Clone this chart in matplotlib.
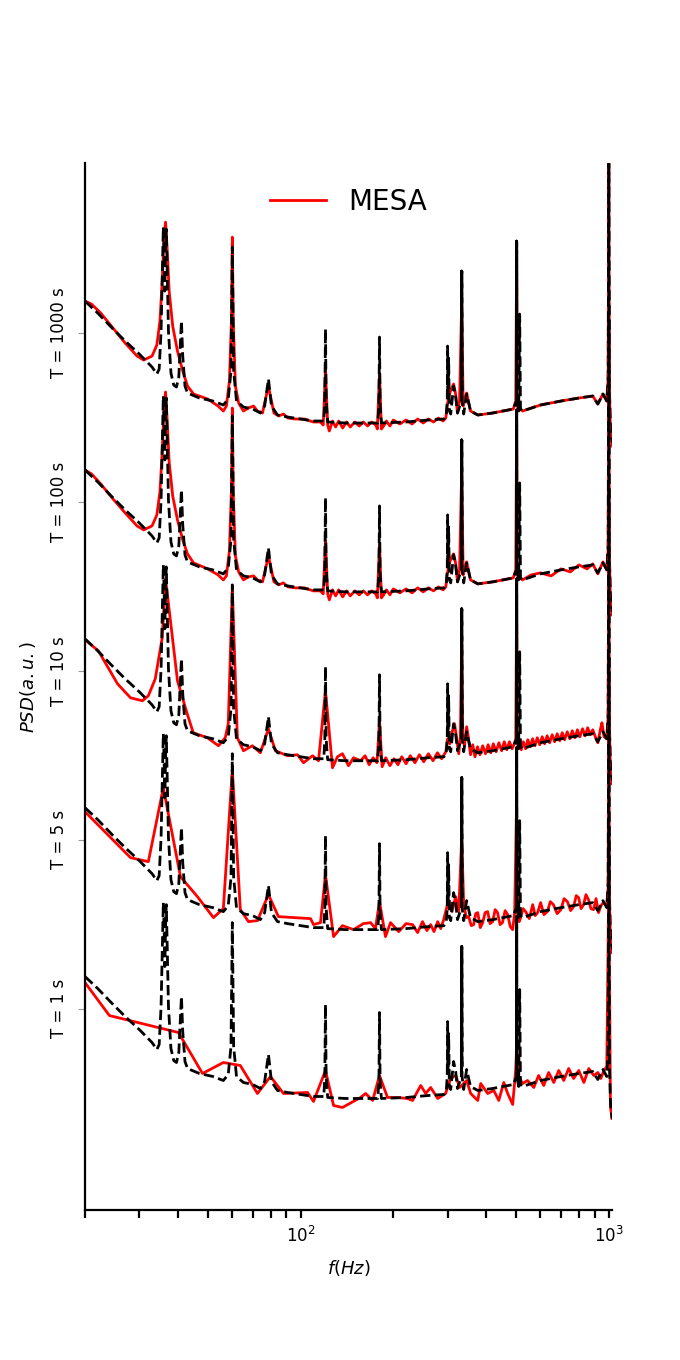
import numpy as np
import matplotlib.pyplot as plt

durations = ['1000', '100', '10', '5', '1']

# reference spectrum (black dashed), same for every panel
ref_f = [20.0, 22.0, 24.5, 27.0, 30.0, 33.0, 34.2, 34.8, 35.3, 35.7, 35.9, 36.1, 36.3, 36.5, 36.7,
         36.9, 37.3, 38.0, 38.8, 39.6, 40.3, 40.8, 41.1, 41.5, 42.2, 43.0, 47.0, 52.0, 56.2, 58.3,
         59.5, 60.1, 60.7, 62.0, 65.3, 70.0, 74.1, 76.5, 78.7, 80.5, 84.2, 90.8, 100.0, 110.0, 119.0,
         119.9, 120.5, 121.1, 122.5, 140.0, 160.0, 178.0, 179.6, 180.4, 181.2, 183.0, 220.0, 260.0,
         292.0, 297.0, 299.2, 300.0, 300.8, 302.3, 304.0, 307.0, 313.7, 318.6, 323.0, 332.4, 333.1,
         333.15, 333.2, 333.25, 333.3, 333.35, 333.4, 334.2, 338.3, 345.8, 356.0, 376.0, 420.0, 490.0,
         501.6, 502.2, 502.25, 502.3, 502.35, 502.4, 502.45, 502.5, 503.2, 510.0, 513.5, 513.9, 517.0,
         525.0, 600.0, 700.0, 800.0, 887.0, 921.0, 957.0, 985.0, 995.0, 1000.0, 1005.0, 1012.0, 1024.0]
ref_psd = [20.0, 18.8, 17.3, 16.0, 14.7, 13.4, 12.7, 13.2, 17.0, 24.0, 27.4, 25.0, 21.0, 25.0, 27.2,
           24.0, 17.0, 12.8, 11.6, 11.4, 12.4, 16.0, 18.0, 14.5, 11.5, 10.8, 10.3, 10.0, 9.6, 10.2,
           13.0, 25.4, 13.0, 10.0, 9.4, 9.2, 8.8, 9.5, 12.2, 9.5, 8.6, 8.4, 8.2, 8.0, 8.0,
           10.0, 17.2, 10.0, 7.9, 7.8, 7.8, 7.8, 9.5, 16.4, 9.5, 7.8, 7.9, 8.1,
           8.2, 8.6, 10.0, 15.5, 10.5, 14.3, 9.0, 8.7, 11.5, 10.5, 8.8, 10.0, 23.0,
           10.6, 23.0, 10.8, 23.0, 11.0, 23.0, 10.0, 8.7, 10.7, 9.0, 8.6, 8.8, 9.2,
           10.0, 26.0, 10.4, 26.0, 10.6, 26.0, 10.8, 26.0, 10.0, 9.0, 18.7, 18.7, 9.2,
           9.0, 9.6, 10.0, 10.3, 10.5, 9.7, 10.7, 10.0, 12.5, 35.0, 11.0, 7.5, 5.8]

# MESA estimates (red)
mesa_f_1000 = [20.0, 21.0, 22.5, 24.5, 27.0, 29.5, 31.0, 33.0, 34.2, 35.0, 35.6, 36.1, 36.5, 36.9, 37.5,
               38.5, 39.9, 41.5, 43.0, 45.0, 50.0, 54.0, 56.2, 57.5, 58.8, 59.7, 60.1, 60.5, 61.5, 63.0,
               65.3, 67.8, 70.4, 72.5, 75.3, 77.0, 78.7, 80.5, 82.0, 85.0, 88.0, 91.0, 96.0, 103.0, 110.0,
               116.0, 118.5, 120.5, 122.5, 124.0, 127.0, 130.0, 133.0, 137.0, 141.0, 145.0, 150.0, 155.0,
               160.0, 165.0, 170.0, 175.5, 177.5, 180.4, 183.0, 186.0, 190.0, 195.0, 200.0, 210.0, 220.0,
               230.0, 240.0, 250.0, 260.0, 270.0, 280.0, 290.0, 296.0, 299.0, 303.0, 308.0, 313.7, 318.0,
               323.0, 328.0, 333.3, 337.0, 341.0, 345.8, 356.0, 376.0, 420.0, 490.0, 499.0, 502.4, 505.0,
               525.0, 600.0, 700.0, 800.0, 887.0, 921.0, 957.0, 985.0, 995.0, 1000.0, 1005.0, 1012.0, 1024.0]
mesa_psd_1000 = [20.0, 19.7, 18.8, 17.4, 15.8, 14.5, 14.1, 14.5, 15.6, 18.0, 22.0, 26.5, 27.9, 25.5, 21.0,
                 17.5, 15.0, 13.0, 11.5, 10.7, 10.2, 9.5, 9.0, 9.5, 12.0, 18.0, 26.4, 18.0, 11.5, 9.8,
                 9.0, 9.3, 9.5, 9.0, 8.8, 10.2, 11.5, 10.0, 8.8, 8.5, 8.7, 8.3, 8.2, 8.2, 7.9,
                 7.9, 7.6, 13.2, 7.6, 7.0, 8.0, 7.4, 8.0, 7.3, 7.9, 7.4, 7.9, 7.5,
                 7.9, 7.5, 7.9, 7.6, 7.2, 12.8, 7.2, 7.5, 8.0, 7.5, 8.1, 7.7, 8.1,
                 7.7, 8.2, 7.8, 8.2, 7.9, 8.3, 8.0, 8.3, 9.5, 10.5, 11.2, 11.7, 10.8,
                 8.8, 10.0, 20.0, 9.5, 10.2, 10.8, 9.0, 8.6, 8.8, 9.2, 10.0, 25.0, 9.5,
                 9.0, 9.6, 10.0, 10.3, 10.5, 9.7, 10.7, 10.0, 12.2, 34.0, 10.8, 7.0, 5.5]

mesa_f_100 = [20.0, 21.0, 22.5, 24.5, 27.0, 29.5, 31.0, 33.0, 34.2, 35.0, 35.6, 36.1, 36.5, 36.9, 37.5,
              38.5, 39.9, 41.5, 43.0, 45.0, 50.0, 54.0, 56.2, 57.5, 58.8, 59.7, 60.1, 60.5, 61.5, 63.0,
              65.3, 67.8, 70.4, 72.5, 75.3, 77.0, 78.7, 80.5, 82.0, 85.0, 88.0, 91.0, 96.0, 103.0, 110.0,
              116.0, 118.5, 120.5, 122.5, 124.0, 127.0, 130.0, 133.0, 137.0, 141.0, 145.0, 150.0, 155.0,
              160.0, 165.0, 170.0, 175.5, 177.5, 180.4, 183.0, 186.0, 190.0, 195.0, 200.0, 210.0, 220.0,
              230.0, 240.0, 250.0, 260.0, 270.0, 280.0, 290.0, 296.0, 299.0, 303.0, 308.0, 313.7, 318.0,
              323.0, 328.0, 333.3, 337.0, 341.0, 345.8, 356.0, 376.0, 420.0, 490.0, 499.0, 502.4, 505.0,
              525.0, 560.0, 600.0, 650.0, 700.0, 750.0, 800.0, 850.0, 887.0, 921.0, 957.0, 985.0, 995.0,
              1000.0, 1005.0, 1012.0, 1024.0]
mesa_psd_100 = [20.0, 19.6, 18.6, 17.2, 15.7, 14.4, 14.0, 14.4, 15.5, 17.8, 21.8, 26.3, 27.8, 25.3, 20.8,
                17.4, 15.0, 13.0, 11.6, 10.7, 10.1, 9.5, 9.0, 9.4, 11.9, 18.0, 26.2, 17.8, 11.4, 9.8,
                9.0, 9.3, 9.4, 9.0, 8.8, 10.1, 11.4, 10.0, 8.8, 8.5, 8.7, 8.3, 8.2, 8.2, 7.9,
                7.9, 7.6, 13.0, 7.6, 7.0, 8.0, 7.4, 8.0, 7.3, 7.9, 7.4, 7.9, 7.5,
                7.9, 7.5, 7.9, 7.6, 7.2, 12.6, 7.2, 7.5, 8.0, 7.5, 8.1, 7.7, 8.1,
                7.7, 8.2, 7.8, 8.2, 7.9, 8.3, 8.0, 8.3, 9.5, 10.5, 11.2, 11.6, 10.8,
                8.8, 10.0, 20.0, 9.5, 10.2, 10.8, 9.0, 8.6, 8.8, 9.2, 10.0, 24.8, 9.5,
                9.0, 9.5, 9.7, 9.4, 10.1, 9.8, 10.5, 10.1, 10.6, 9.6, 10.8, 10.0, 12.0,
                33.8, 10.8, 7.0, 5.5]

mesa_f_10 = [20.0, 22.1, 25.5, 28.1, 30.7, 32.1, 33.8, 35.6, 36.5, 39.9, 42.9, 44.9, 49.9, 54.2, 57.0,
             58.3, 60.1, 62.4, 65.3, 69.8, 74.1, 78.7, 82.9, 90.8, 97.8, 102.3, 109.4, 114.4, 120.5, 127.0,
             131.8, 136.8, 143.1, 148.6, 156.6, 162.0, 167.0, 172.0, 177.0, 180.4, 184.0, 189.0, 195.0,
             201.0, 207.0, 213.0, 220.0, 227.0, 235.0, 243.0, 251.0, 260.0, 269.0, 278.0, 287.0, 296.0,
             300.0, 305.0, 311.0, 316.0, 321.0, 326.0, 330.0, 333.3, 336.0, 340.0, 345.8, 350.0, 356.0,
             362.0, 368.0, 375.0, 382.0, 390.0, 398.0, 406.0, 414.0, 422.0, 431.0, 440.0, 449.0, 458.0,
             467.0, 476.0, 486.0, 495.0, 499.0, 502.4, 505.0, 512.0, 520.0, 528.0, 537.0, 546.0, 556.0,
             566.0, 576.0, 586.0, 597.0, 608.0, 619.0, 631.0, 643.0, 655.0, 667.0, 680.0, 693.0, 706.0,
             719.0, 733.0, 747.0, 761.0, 776.0, 791.0, 806.0, 822.0, 838.0, 854.0, 870.0, 887.0, 904.0,
             921.0, 940.0, 950.0, 965.0, 985.0, 995.0, 1000.0, 1005.0, 1012.0, 1024.0]
mesa_psd_10 = [19.9, 18.8, 15.5, 14.1, 13.8, 14.3, 16.0, 20.1, 26.0, 15.8, 12.5, 10.6, 10.1, 9.3, 10.1,
               11.5, 25.1, 10.1, 8.8, 9.3, 8.6, 11.0, 8.8, 8.3, 8.4, 7.6, 8.3, 7.8, 14.8, 7.1,
               8.2, 8.5, 7.3, 8.1, 7.8, 8.3, 7.4, 8.1, 7.6, 11.8, 7.2, 8.1, 7.3,
               8.0, 7.4, 8.2, 7.5, 8.3, 7.6, 8.4, 7.7, 8.5, 7.8, 8.6, 8.0, 8.7,
               10.0, 9.5, 10.8, 11.5, 10.0, 8.5, 10.2, 20.0, 10.2, 9.3, 11.2, 10.2, 8.4,
               9.4, 8.2, 9.2, 8.4, 9.3, 8.5, 9.4, 8.6, 9.5, 8.7, 9.6, 8.8, 9.7,
               8.9, 9.7, 9.0, 9.6, 10.0, 24.5, 9.5, 9.8, 8.9, 9.7, 9.0, 9.9, 9.2,
               10.0, 9.3, 10.1, 9.4, 10.2, 9.5, 10.3, 9.6, 10.4, 9.7, 10.5, 9.8, 10.6,
               9.9, 10.7, 10.0, 10.8, 10.1, 10.9, 10.2, 11.0, 10.3, 11.1, 10.4, 10.9, 10.2,
               9.6, 11.0, 11.6, 10.2, 10.0, 12.2, 33.5, 10.8, 7.0, 5.5]

mesa_f_5 = [20.0, 28.1, 32.1, 35.9, 40.8, 46.3, 52.2, 56.2, 60.1, 63.8, 67.8, 72.5, 78.7, 84.8, 107.8,
            110.2, 116.1, 120.5, 128.0, 136.8, 148.6, 160.0, 168.8, 175.0, 180.4, 188.6, 195.9, 208.2,
            220.0, 231.0, 239.7, 248.8, 257.0, 264.4, 271.0, 278.6, 285.0, 291.3, 302.3, 310.0, 318.6,
            326.0, 333.3, 338.3, 345.0, 351.0, 358.0, 364.5, 370.0, 375.7, 383.0, 389.9, 397.0, 404.6,
            412.0, 419.8, 428.0, 435.6, 444.0, 452.0, 461.0, 469.9, 479.0, 487.7, 495.0, 502.4, 506.0,
            512.0, 517.6, 527.0, 537.4, 552.0, 566.3, 577.0, 587.7, 601.0, 616.0, 632.0, 646.0, 661.0,
            680.0, 699.0, 716.0, 734.0, 752.0, 769.0, 784.0, 798.0, 813.0, 828.0, 843.0, 859.0, 875.0,
            892.0, 909.0, 926.0, 943.0, 960.0, 985.0, 995.0, 1000.0, 1005.0, 1012.0, 1024.0]
mesa_psd_5 = [19.6, 15.0, 14.6, 22.0, 13.1, 11.1, 9.0, 9.9, 23.8, 9.8, 8.6, 8.7, 11.3, 9.1, 8.9,
              8.3, 8.5, 13.3, 7.1, 8.2, 7.8, 8.4, 8.5, 7.9, 10.6, 7.1, 8.5, 7.6,
              8.4, 8.3, 7.5, 8.6, 7.7, 8.3, 7.6, 8.6, 7.9, 8.8, 10.8, 9.6, 11.1,
              9.6, 17.0, 10.3, 9.0, 9.1, 8.2, 8.3, 9.4, 9.5, 8.0, 8.5, 9.5, 9.6,
              8.4, 8.6, 9.8, 9.5, 8.3, 8.5, 9.7, 9.3, 8.1, 7.8, 9.5, 21.0, 9.5,
              8.6, 9.0, 9.9, 9.6, 8.9, 10.3, 9.2, 9.5, 10.5, 9.3, 9.6, 10.6, 10.3,
              9.4, 9.8, 10.9, 10.6, 9.7, 10.1, 11.2, 11.0, 9.9, 10.3, 11.3, 10.8, 9.9,
              9.8, 10.9, 9.5, 10.2, 10.5, 10.2, 12.0, 33.0, 10.5, 7.0, 5.5]

mesa_f_1 = [20.0, 24.0, 40.2, 48.1, 56.2, 63.8, 72.5, 79.9, 88.1, 105.4, 110.2, 120.5, 128.0, 136.8,
            156.6, 162.6, 171.4, 180.4, 191.5, 206.4, 222.4, 230.9, 245.4, 254.7, 264.4, 278.6, 295.6,
            306.8, 318.6, 328.3, 345.8, 356.4, 375.7, 384.2, 404.6, 423.4, 439.6, 456.4, 469.9, 487.7,
            498.7, 502.4, 510.0, 525.3, 545.0, 571.0, 592.0, 615.0, 638.0, 663.0, 688.0, 714.0, 741.0,
            769.0, 799.0, 830.0, 861.0, 894.0, 921.0, 942.0, 964.0, 985.0, 1000.0, 1012.0, 1024.0]
mesa_psd_1 = [19.4, 16.1, 14.4, 10.3, 11.4, 11.1, 8.3, 10.0, 8.3, 8.4, 7.5, 10.6, 7.1, 6.9,
              7.9, 8.3, 7.6, 10.1, 7.9, 7.9, 7.8, 7.6, 9.1, 8.3, 8.9, 7.8, 8.3,
              9.8, 10.1, 8.9, 9.6, 8.3, 7.6, 9.3, 8.3, 8.6, 7.6, 9.4, 8.3, 7.2,
              10.6, 13.0, 10.0, 9.3, 9.6, 8.9, 10.1, 9.1, 10.4, 9.4, 10.6, 9.6, 10.8,
              9.8, 10.6, 9.4, 10.8, 10.1, 10.4, 9.8, 10.6, 11.0, 30.0, 7.0, 5.8]

mesa_f = [mesa_f_1000, mesa_f_100, mesa_f_10, mesa_f_5, mesa_f_1]
mesa_psd = [mesa_psd_1000, mesa_psd_100, mesa_psd_10, mesa_psd_5, mesa_psd_1]

shift = 16.9        # vertical offset between panels
label_level = 16.8  # where the T label sits for the top panel

fig, ax = plt.subplots(figsize=(6.8, 13.6), dpi=100)

tick_pos = []
for k in range(len(durations)):
    off = -shift * k
    ax.plot(mesa_f[k], np.array(mesa_psd[k]) + off, color='red', lw=2,
            label='MESA' if k == 0 else None)
    ax.plot(ref_f, np.array(ref_psd) + off, color='black', ls='--', lw=2)
    tick_pos.append(label_level + off)

ax.set_xscale('log')
ax.set_xlim(20, 1024)
ax.set_ylim(-71.0, 33.8)

ax.set_yticks(tick_pos)
ax.set_yticklabels(['T = %s s' % T for T in durations], rotation=90, va='center', fontsize=12)
ax.tick_params(axis='y', length=5, width=0.8, color='0.6', pad=7)
ax.tick_params(axis='x', which='both', length=5.5, width=1.6, labelsize=12, pad=6)

for s in ['top', 'right']:
    ax.spines[s].set_visible(False)
for s in ['left', 'bottom']:
    ax.spines[s].set_linewidth(1.6)

ax.set_xlabel('$f(Hz)$', fontsize=13, labelpad=8)
ax.set_ylabel('$PSD(a.u.)$', fontsize=13, labelpad=9)
ax.legend(loc='upper center', frameon=False, fontsize=20)

plt.savefig('out.png')
